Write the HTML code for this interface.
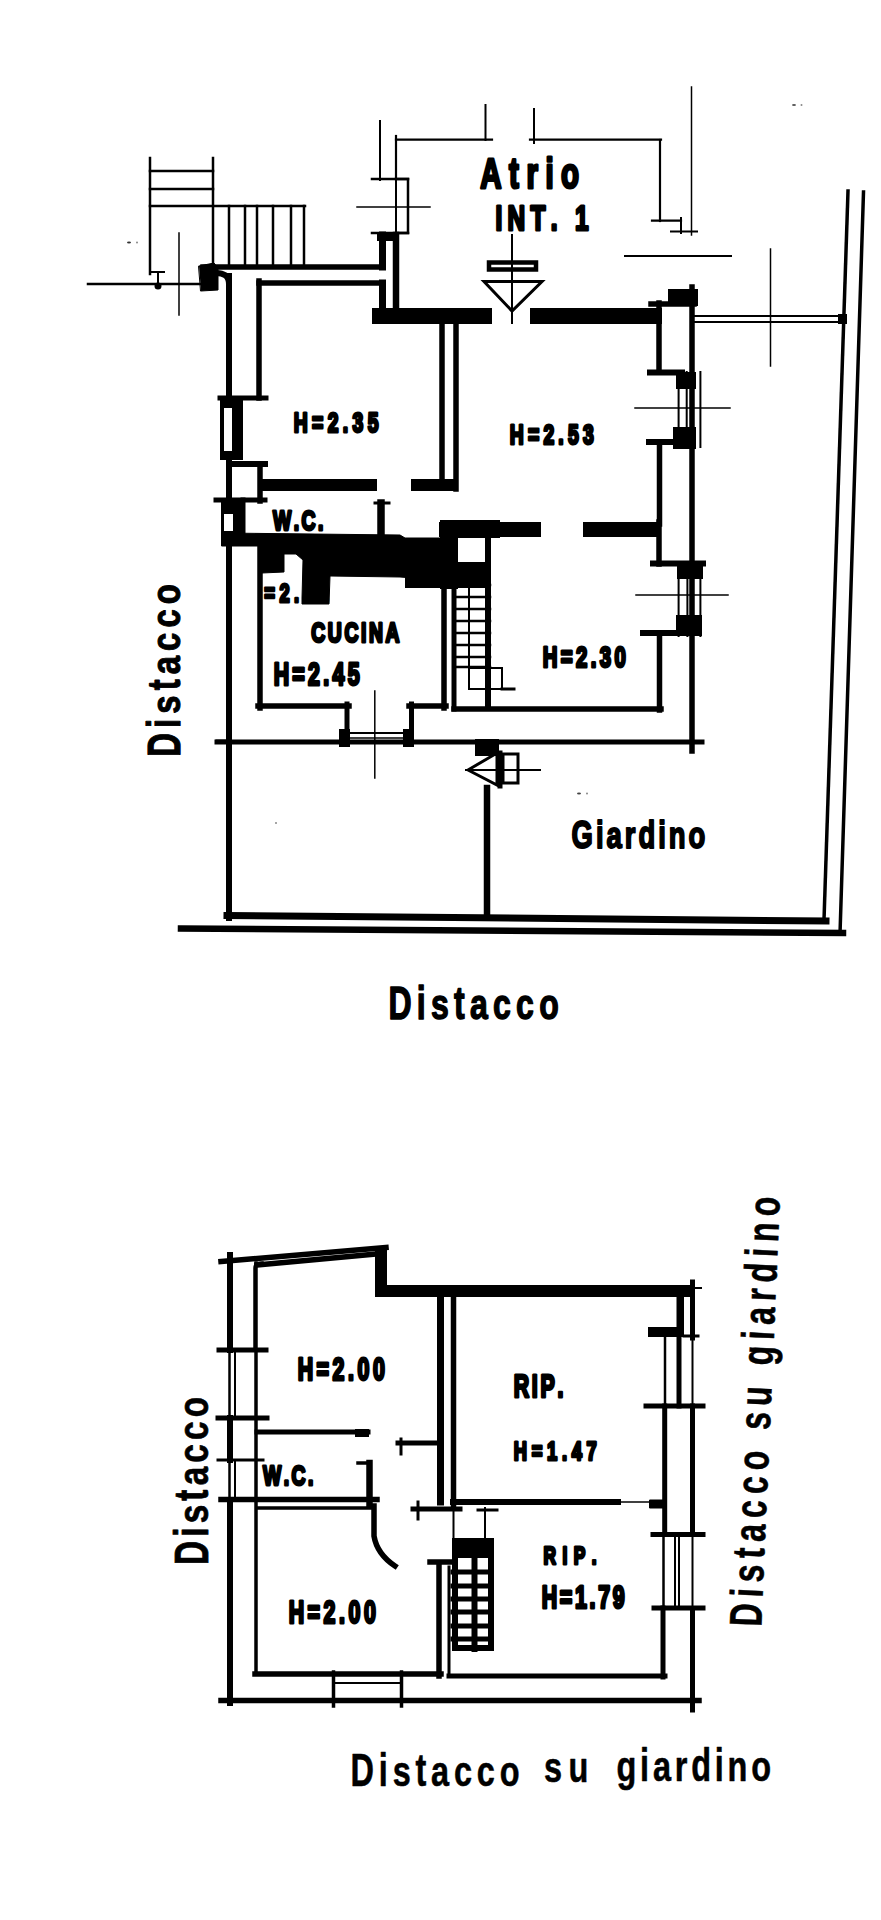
<!DOCTYPE html>
<html><head><meta charset="utf-8"><style>
html,body{margin:0;padding:0;background:#fff;}
svg{display:block;}
text{font-family:"Liberation Sans",sans-serif;fill:#000;}
</style></head><body>
<svg width="881" height="1920" viewBox="0 0 881 1920" stroke="#000" stroke-linecap="square">
<rect x="0" y="0" width="881" height="1920" fill="#fff" stroke="none"/>
<line x1="150" y1="158" x2="150" y2="274" stroke-width="2.5"/>
<line x1="213" y1="158" x2="213" y2="267" stroke-width="2.5"/>
<line x1="150" y1="171" x2="213" y2="171" stroke-width="2.5"/>
<line x1="150" y1="189" x2="213" y2="189" stroke-width="2.5"/>
<line x1="150" y1="206" x2="305" y2="206" stroke-width="2.5"/>
<line x1="229" y1="206" x2="229" y2="267" stroke-width="2.5"/>
<line x1="245" y1="206" x2="245" y2="267" stroke-width="2.5"/>
<line x1="257" y1="206" x2="257" y2="267" stroke-width="2.5"/>
<line x1="273" y1="206" x2="273" y2="267" stroke-width="2.5"/>
<line x1="291" y1="206" x2="291" y2="267" stroke-width="2.5"/>
<line x1="304" y1="206" x2="304" y2="267" stroke-width="2.5"/>
<line x1="150" y1="272" x2="164" y2="272" stroke-width="2"/>
<line x1="158" y1="272" x2="158" y2="286" stroke-width="2"/>
<circle cx="158" cy="286" r="3.5" fill="#000" stroke="none"/>
<line x1="88" y1="284" x2="203" y2="284" stroke-width="2.5"/>
<line x1="179" y1="233" x2="179" y2="315" stroke-width="1.5"/>
<path d="M199 266 L214 263 L218 268 L218 290 L201 291 Z" stroke-width="1" fill="#000"/>
<path d="M214 273 Q229 272 229 284" stroke-width="6" fill="none"/>
<line x1="203" y1="267" x2="383" y2="267" stroke-width="5.5"/>
<line x1="259" y1="283" x2="383" y2="283" stroke-width="5.5"/>
<line x1="229" y1="276" x2="229" y2="918" stroke-width="6"/>
<line x1="259" y1="281" x2="259" y2="398" stroke-width="5.5"/>
<line x1="382.5" y1="235" x2="382.5" y2="267" stroke-width="7"/>
<line x1="382.5" y1="283" x2="382.5" y2="320" stroke-width="7"/>
<line x1="396" y1="235" x2="396" y2="312" stroke-width="6.5"/>
<rect x="377" y="232" width="22" height="9" fill="#000" stroke="none"/>
<rect x="372" y="308" width="120" height="16" fill="#000" stroke="none"/>
<rect x="530" y="308" width="132" height="16" fill="#000" stroke="none"/>
<path d="M396 179 H408 V233 H396" stroke-width="2.5" fill="none"/>
<line x1="396" y1="179" x2="396" y2="233" stroke-width="2"/>
<line x1="372" y1="179" x2="408" y2="179" stroke-width="2.5"/>
<line x1="372" y1="233" x2="408" y2="233" stroke-width="2.5"/>
<line x1="357" y1="207" x2="430" y2="207" stroke-width="1.5"/>
<line x1="380" y1="121" x2="380" y2="180" stroke-width="2"/>
<line x1="396" y1="139.6" x2="492" y2="139.6" stroke-width="2.2"/>
<line x1="396" y1="136" x2="396" y2="179" stroke-width="2.2"/>
<line x1="485.5" y1="105" x2="485.5" y2="140" stroke-width="2"/>
<line x1="534" y1="109" x2="534" y2="143" stroke-width="2"/>
<line x1="530" y1="139.6" x2="661" y2="139.6" stroke-width="2.2"/>
<line x1="660" y1="140" x2="660" y2="221" stroke-width="2.2"/>
<line x1="652" y1="220.6" x2="681" y2="220.6" stroke-width="2.2"/>
<line x1="681" y1="218" x2="681" y2="233" stroke-width="2"/>
<line x1="671" y1="231.5" x2="697" y2="231.5" stroke-width="2"/>
<line x1="691.5" y1="87" x2="691.5" y2="235" stroke-width="1.5"/>
<line x1="625" y1="256" x2="731" y2="256" stroke-width="2"/>
<line x1="512" y1="235" x2="512" y2="323" stroke-width="2"/>
<rect x="489" y="262.5" width="47" height="7" fill="none" stroke-width="4.5"/>
<path d="M484 281.5 L542 281.5 L512 311 Z" stroke-width="3" fill="none"/>
<line x1="659" y1="303" x2="659" y2="372" stroke-width="5.5"/>
<line x1="651" y1="304" x2="694" y2="304" stroke-width="5.5"/>
<rect x="668" y="289" width="30" height="17" fill="#000" stroke="none"/>
<line x1="692" y1="287" x2="692" y2="751" stroke-width="5.5"/>
<line x1="693" y1="316" x2="845" y2="316" stroke-width="2"/>
<line x1="693" y1="322" x2="845" y2="322" stroke-width="2"/>
<rect x="838" y="314" width="9" height="10" fill="#000" stroke="none"/>
<line x1="770.5" y1="249" x2="770.5" y2="366" stroke-width="1.5"/>
<line x1="650" y1="372.5" x2="682" y2="372.5" stroke-width="6"/>
<rect x="676" y="372" width="20" height="17" fill="#000" stroke="none"/>
<line x1="678.6" y1="372" x2="678.6" y2="447" stroke-width="2"/>
<line x1="686.7" y1="372" x2="686.7" y2="447" stroke-width="2"/>
<line x1="700.4" y1="372" x2="700.4" y2="447" stroke-width="2"/>
<line x1="635" y1="408" x2="730" y2="408" stroke-width="1.5"/>
<rect x="673" y="427" width="23" height="22" fill="#000" stroke="none"/>
<line x1="649" y1="442" x2="688" y2="442" stroke-width="6"/>
<line x1="659.5" y1="442" x2="659.5" y2="524" stroke-width="5.5"/>
<rect x="439" y="522" width="102" height="15" fill="#000" stroke="none"/>
<rect x="583" y="522" width="78" height="15" fill="#000" stroke="none"/>
<line x1="659" y1="522" x2="659" y2="564" stroke-width="5.5"/>
<line x1="653" y1="563.6" x2="703" y2="563.6" stroke-width="6"/>
<rect x="677" y="561" width="26" height="18" fill="#000" stroke="none"/>
<line x1="678.6" y1="573" x2="678.6" y2="636" stroke-width="2"/>
<line x1="687.4" y1="573" x2="687.4" y2="636" stroke-width="2"/>
<line x1="700.4" y1="573" x2="700.4" y2="636" stroke-width="2"/>
<line x1="636" y1="595" x2="728" y2="595" stroke-width="1.5"/>
<rect x="676" y="615" width="26" height="21" fill="#000" stroke="none"/>
<line x1="643" y1="633" x2="688" y2="633" stroke-width="6"/>
<line x1="659.5" y1="633" x2="659.5" y2="710" stroke-width="5.5"/>
<line x1="454" y1="709" x2="661" y2="709" stroke-width="5.5"/>
<line x1="217" y1="742" x2="702" y2="742" stroke-width="5"/>
<line x1="442" y1="320" x2="442" y2="486" stroke-width="5.5"/>
<line x1="456" y1="320" x2="456" y2="489" stroke-width="5.5"/>
<rect x="262" y="479" width="115" height="12" fill="#000" stroke="none"/>
<rect x="411" y="479" width="47" height="12" fill="#000" stroke="none"/>
<line x1="220" y1="398" x2="266" y2="398" stroke-width="5"/>
<rect x="220" y="398" width="23" height="62" fill="#000" stroke="none"/>
<rect x="224" y="408" width="8" height="43" fill="#fff" stroke="none"/>
<line x1="234" y1="464" x2="265" y2="464" stroke-width="6"/>
<line x1="260" y1="464" x2="260" y2="501" stroke-width="5.5"/>
<line x1="216" y1="500" x2="265" y2="500" stroke-width="5"/>
<rect x="221" y="500" width="22" height="43" fill="#000" stroke="none"/>
<rect x="224" y="514" width="9" height="17" fill="#fff" stroke="none"/>
<line x1="381" y1="503" x2="381" y2="541" stroke-width="7.5"/>
<line x1="375" y1="503" x2="389" y2="503" stroke-width="3"/>
<line x1="243" y1="500" x2="243" y2="538" stroke-width="5"/>
<path d="M222 533 L400 535 L405 538 L440 538 L440 580 L400 577 L330 576 L329 604 L302 604 L302 598 L303 560 L296 554 L284 554 L284 572 L262 573 L262 546 L222 546 Z" stroke-width="1" fill="#000"/>
<rect x="440" y="520" width="60" height="18" fill="#000" stroke="none"/>
<rect x="440" y="520" width="18" height="69" fill="#000" stroke="none"/>
<rect x="485" y="520" width="6" height="188" fill="#000" stroke="none"/>
<rect x="405" y="562" width="86" height="26" fill="#000" stroke="none"/>
<line x1="260" y1="548" x2="260" y2="708" stroke-width="5.5"/>
<line x1="258" y1="706" x2="349" y2="706" stroke-width="5.5"/>
<line x1="347" y1="704" x2="347" y2="733" stroke-width="5"/>
<line x1="411.5" y1="704" x2="411.5" y2="733" stroke-width="5"/>
<line x1="409" y1="706" x2="446" y2="706" stroke-width="5.5"/>
<line x1="444" y1="582" x2="444" y2="708" stroke-width="5.5"/>
<line x1="341" y1="733" x2="413" y2="733" stroke-width="2"/>
<line x1="341" y1="738" x2="413" y2="738" stroke-width="1.5"/>
<rect x="339" y="729" width="11" height="18" fill="#000" stroke="none"/>
<rect x="403" y="729" width="11" height="18" fill="#000" stroke="none"/>
<line x1="374.8" y1="691" x2="374.8" y2="778" stroke-width="1.5"/>
<line x1="454" y1="590" x2="454" y2="709" stroke-width="5"/>
<line x1="454" y1="585" x2="490" y2="585" stroke-width="2.5"/>
<line x1="454" y1="597" x2="490" y2="597" stroke-width="2.5"/>
<line x1="454" y1="609" x2="490" y2="609" stroke-width="2.5"/>
<line x1="454" y1="621" x2="490" y2="621" stroke-width="2.5"/>
<line x1="454" y1="633" x2="490" y2="633" stroke-width="2.5"/>
<line x1="454" y1="645" x2="490" y2="645" stroke-width="2.5"/>
<line x1="454" y1="657" x2="490" y2="657" stroke-width="2.5"/>
<line x1="454" y1="667" x2="490" y2="667" stroke-width="2.5"/>
<line x1="469" y1="585" x2="469" y2="689" stroke-width="2"/>
<rect x="469" y="668" width="33" height="21" fill="none" stroke-width="2"/>
<line x1="502" y1="689" x2="514" y2="689" stroke-width="3"/>
<rect x="475" y="739" width="24" height="17" fill="#000" stroke="none"/>
<path d="M468 770 L497 753 L497 785 Z" stroke-width="3" fill="none"/>
<line x1="500" y1="753" x2="500" y2="786" stroke-width="5"/>
<rect x="503" y="754" width="15" height="29" fill="none" stroke-width="3"/>
<line x1="466" y1="770" x2="540" y2="770" stroke-width="2"/>
<line x1="487" y1="788" x2="487" y2="917" stroke-width="6.5"/>
<line x1="227" y1="915.5" x2="826" y2="921" stroke-width="7"/>
<line x1="181" y1="928.5" x2="843" y2="933" stroke-width="6.5"/>
<line x1="848" y1="191" x2="824" y2="920" stroke-width="3.5"/>
<line x1="863.5" y1="192" x2="840" y2="934" stroke-width="3.5"/>
<line x1="217" y1="741" x2="229" y2="741" stroke-width="3"/>
<text transform="translate(480 189) rotate(0) scale(0.7 1)" x="0.45 41.59 66.32 93.42 115.83" y="-1.5" font-size="42.15" font-weight="bold" stroke="#000" stroke-width="3" stroke-linejoin="round">Atrio</text>
<text transform="translate(496 231) rotate(0) scale(0.7 1)" x="-0.83 16.50 49.32 78.27 112.93" y="-1.5" font-size="34.88" font-weight="bold" stroke="#000" stroke-width="3" stroke-linejoin="round">INT.1</text>
<text transform="translate(294 433.6) rotate(0) scale(0.7 1)" x="-0.35 25.84 48.21 69.82 83.73 105.34" y="-1.5" font-size="27.62" font-weight="bold" stroke="#000" stroke-width="3" stroke-linejoin="round">H=2.35</text>
<text transform="translate(510 445) rotate(0) scale(0.7 1)" x="-0.35 25.60 47.73 69.10 82.78 104.14" y="-1.5" font-size="27.62" font-weight="bold" stroke="#000" stroke-width="3" stroke-linejoin="round">H=2.53</text>
<text transform="translate(272 531) rotate(0) scale(0.7 1)" x="1.47 31.02 42.17 65.59" y="-1.5" font-size="27.62" font-weight="bold" stroke="#000" stroke-width="3" stroke-linejoin="round">W.C.</text>
<text transform="translate(264 603) rotate(0) scale(0.7 1)" x="0.41 22.06 42.98 56.62 77.53" y="-1.5" font-size="26.16" font-weight="bold" stroke="#000" stroke-width="3" stroke-linejoin="round">=2.31</text>
<text transform="translate(311 643) rotate(0) scale(0.7 1)" x="0.37 24.03 47.70 71.37 82.76 106.43" y="-1.5" font-size="27.62" font-weight="bold" stroke="#000" stroke-width="3" stroke-linejoin="round">CUCINA</text>
<text transform="translate(274 686) rotate(0) scale(0.7 1)" x="-0.54 26.20 48.72 70.39 83.56 105.23" y="-1.5" font-size="30.52" font-weight="bold" stroke="#000" stroke-width="3" stroke-linejoin="round">H=2.45</text>
<text transform="translate(543 668) rotate(0) scale(0.7 1)" x="-0.44 25.38 47.19 68.19 81.10 102.10" y="-1.5" font-size="29.07" font-weight="bold" stroke="#000" stroke-width="3" stroke-linejoin="round">H=2.30</text>
<g transform="translate(572 849) rotate(0) scale(0.7 1)" font-size="39.24" font-weight="bold" stroke="#000" stroke-width="2" stroke-linejoin="round"><text x="-0.61" y="-1.0">G</text><text x="34.17" y="-1.0">i</text><text transform="translate(49.33 -1.0) scale(1 0.925)">a</text><text transform="translate(75.41 -1.0) scale(1 0.925)">r</text><text x="94.94" y="-1.0">d</text><text x="123.17" y="-1.0">i</text><text transform="translate(138.33 -1.0) scale(1 0.925)">n</text><text transform="translate(166.56 -1.0) scale(1 0.925)">o</text></g>
<g transform="translate(390 1020) rotate(0) scale(0.7 1)" font-size="45.78" font-weight="bold" stroke="#000" stroke-width="1.5" stroke-linejoin="round"><text x="-2.31" y="-0.75">D</text><text x="38.25" y="-0.75">i</text><text transform="translate(58.47 -0.75) scale(1 0.921)">s</text><text x="91.44" y="-0.75">t</text><text transform="translate(114.18 -0.75) scale(1 0.921)">a</text><text transform="translate(147.14 -0.75) scale(1 0.921)">c</text><text transform="translate(180.11 -0.75) scale(1 0.921)">c</text><text transform="translate(213.07 -0.75) scale(1 0.921)">o</text></g>
<g transform="translate(180.1 755) rotate(-90) scale(0.7 1)" font-size="46.95" font-weight="bold" stroke="#000" stroke-width="1.2" stroke-linejoin="round"><text x="-2.54" y="-0.6">D</text><text x="38.64" y="-0.6">i</text><text transform="translate(58.96 -0.6) scale(1 0.871)">s</text><text x="92.35" y="-0.6">t</text><text transform="translate(115.26 -0.6) scale(1 0.871)">a</text><text transform="translate(148.64 -0.6) scale(1 0.871)">c</text><text transform="translate(182.03 -0.6) scale(1 0.871)">c</text><text transform="translate(215.41 -0.6) scale(1 0.871)">o</text></g>
<line x1="221" y1="1261.5" x2="386" y2="1247.5" stroke-width="5.5"/>
<line x1="257" y1="1265" x2="376" y2="1254" stroke-width="5.5"/>
<path d="M255 1350 V1268 Q255 1263 262 1263" stroke-width="3.5" fill="none"/>
<rect x="375" y="1246" width="12" height="49" fill="#000" stroke="none"/>
<rect x="375" y="1285" width="317" height="12" fill="#000" stroke="none"/>
<line x1="230" y1="1255" x2="230" y2="1350" stroke-width="6"/>
<line x1="230" y1="1418" x2="230" y2="1460" stroke-width="6"/>
<line x1="230" y1="1500" x2="230" y2="1703" stroke-width="6"/>
<line x1="256" y1="1263" x2="256" y2="1674" stroke-width="3.5"/>
<line x1="219" y1="1350" x2="266" y2="1350" stroke-width="5"/>
<line x1="218" y1="1418" x2="267" y2="1418" stroke-width="5"/>
<line x1="218" y1="1460" x2="263" y2="1460" stroke-width="3"/>
<line x1="229.5" y1="1350" x2="229.5" y2="1418" stroke-width="2.5"/>
<line x1="235" y1="1350" x2="235" y2="1418" stroke-width="2"/>
<line x1="229.5" y1="1460" x2="229.5" y2="1500" stroke-width="2.5"/>
<line x1="235" y1="1460" x2="235" y2="1500" stroke-width="2"/>
<line x1="257" y1="1432" x2="368" y2="1432" stroke-width="5"/>
<rect x="355" y="1429" width="14" height="8" fill="#000" stroke="none"/>
<line x1="369.5" y1="1463" x2="369.5" y2="1505" stroke-width="6.5"/>
<line x1="358" y1="1463" x2="370" y2="1463" stroke-width="3.5"/>
<line x1="221" y1="1499.5" x2="377" y2="1499.5" stroke-width="5.5"/>
<line x1="257" y1="1508" x2="373" y2="1508" stroke-width="3.5"/>
<path d="M374 1506 L374 1536 Q377 1554 395 1566" stroke-width="5.5" fill="none"/>
<line x1="255" y1="1674" x2="441" y2="1674" stroke-width="5.5"/>
<line x1="333.5" y1="1672" x2="333.5" y2="1706" stroke-width="3.5"/>
<line x1="401.5" y1="1672" x2="401.5" y2="1706" stroke-width="3.5"/>
<line x1="334" y1="1683" x2="402" y2="1683" stroke-width="2"/>
<line x1="221" y1="1700.5" x2="699" y2="1700.5" stroke-width="5.5"/>
<line x1="439" y1="1563" x2="439" y2="1676" stroke-width="5.5"/>
<line x1="430" y1="1562" x2="452" y2="1562" stroke-width="5.5"/>
<line x1="440.5" y1="1295" x2="440.5" y2="1502" stroke-width="7"/>
<line x1="453.5" y1="1295" x2="453.5" y2="1507" stroke-width="5.5"/>
<line x1="398" y1="1443" x2="440" y2="1443" stroke-width="5"/>
<line x1="401" y1="1439" x2="401" y2="1454" stroke-width="3"/>
<line x1="413" y1="1509" x2="460" y2="1509" stroke-width="5"/>
<line x1="418" y1="1502" x2="418" y2="1519" stroke-width="3"/>
<line x1="453" y1="1502" x2="618" y2="1502" stroke-width="6"/>
<line x1="618" y1="1502" x2="663" y2="1502" stroke-width="1.5"/>
<line x1="453.5" y1="1509" x2="453.5" y2="1541" stroke-width="2"/>
<line x1="485" y1="1508" x2="485" y2="1541" stroke-width="2"/>
<line x1="478" y1="1510" x2="497" y2="1510" stroke-width="3"/>
<rect x="452" y="1541" width="40" height="17" fill="#000" stroke="none"/>
<line x1="449" y1="1567" x2="449" y2="1676" stroke-width="3"/>
<rect x="455" y="1541" width="36" height="107" fill="none" stroke-width="6"/>
<line x1="453" y1="1572" x2="490" y2="1572" stroke-width="5"/>
<line x1="453" y1="1586" x2="490" y2="1586" stroke-width="5"/>
<line x1="453" y1="1599" x2="490" y2="1599" stroke-width="5"/>
<line x1="453" y1="1612" x2="490" y2="1612" stroke-width="5"/>
<line x1="453" y1="1626" x2="490" y2="1626" stroke-width="5"/>
<line x1="453" y1="1639" x2="490" y2="1639" stroke-width="5"/>
<line x1="474.5" y1="1558" x2="474.5" y2="1649" stroke-width="6"/>
<line x1="449" y1="1676" x2="665" y2="1676" stroke-width="5"/>
<line x1="663" y1="1608" x2="663" y2="1677" stroke-width="5"/>
<line x1="692.5" y1="1282" x2="692.5" y2="1338" stroke-width="5"/>
<line x1="692.5" y1="1338" x2="692.5" y2="1406" stroke-width="2"/>
<line x1="692.5" y1="1406" x2="692.5" y2="1534" stroke-width="5"/>
<line x1="692.5" y1="1534" x2="692.5" y2="1609" stroke-width="2"/>
<line x1="692.5" y1="1609" x2="692.5" y2="1710" stroke-width="5"/>
<rect x="676.5" y="1297" width="7.5" height="40" fill="#000" stroke="none"/>
<rect x="648" y="1327" width="36" height="10" fill="#000" stroke="none"/>
<line x1="684" y1="1336" x2="698" y2="1336" stroke-width="3"/>
<line x1="665" y1="1338" x2="665" y2="1406" stroke-width="2.5"/>
<line x1="679" y1="1331" x2="679" y2="1406" stroke-width="5"/>
<line x1="688" y1="1288" x2="701" y2="1288" stroke-width="2"/>
<line x1="646" y1="1406" x2="703" y2="1406" stroke-width="5"/>
<line x1="653" y1="1534.6" x2="703" y2="1534.6" stroke-width="5"/>
<line x1="654" y1="1608" x2="703" y2="1608" stroke-width="5"/>
<line x1="664.7" y1="1406" x2="664.7" y2="1534" stroke-width="5"/>
<path d="M650 1500 L664 1500 L664 1508 L650 1508 Z" stroke-width="1" fill="#000"/>
<line x1="663.5" y1="1534" x2="663.5" y2="1609" stroke-width="2.5"/>
<line x1="675" y1="1534" x2="675" y2="1609" stroke-width="2"/>
<line x1="679" y1="1534" x2="679" y2="1609" stroke-width="2"/>
<text transform="translate(298 1381) rotate(0) scale(0.7 1)" x="-0.54 26.56 49.45 71.48 85.03 107.06" y="-1.5" font-size="30.52" font-weight="bold" stroke="#000" stroke-width="3" stroke-linejoin="round">H=2.00</text>
<text transform="translate(514 1398) rotate(0) scale(0.7 1)" x="-0.54 25.43 37.84 62.12" y="-1.5" font-size="30.52" font-weight="bold" stroke="#000" stroke-width="3" stroke-linejoin="round">RIP.</text>
<text transform="translate(514 1461) rotate(0) scale(0.7 1)" x="-0.25 25.32 47.27 68.50 82.44 103.67" y="-1.5" font-size="26.16" font-weight="bold" stroke="#000" stroke-width="3" stroke-linejoin="round">H=1.47</text>
<text transform="translate(262 1486) rotate(0) scale(0.7 1)" x="1.47 31.02 42.17 65.59" y="-1.5" font-size="27.62" font-weight="bold" stroke="#000" stroke-width="3" stroke-linejoin="round">W.C.</text>
<text transform="translate(543.5 1565) rotate(0) scale(0.7 1)" x="-0.15 27.03 43.23 69.05" y="-1.5" font-size="24.71" font-weight="bold" stroke="#000" stroke-width="3" stroke-linejoin="round">RIP.</text>
<text transform="translate(542 1609) rotate(0) scale(0.7 1)" x="-0.54 25.40 47.11 67.98 80.36 101.23" y="-1.5" font-size="30.52" font-weight="bold" stroke="#000" stroke-width="3" stroke-linejoin="round">H=1.79</text>
<text transform="translate(289 1624) rotate(0) scale(0.7 1)" x="-0.54 26.56 49.45 71.48 85.03 107.06" y="-1.5" font-size="30.52" font-weight="bold" stroke="#000" stroke-width="3" stroke-linejoin="round">H=2.00</text>
<g transform="translate(208 1563) rotate(-90) scale(0.7 1)" font-size="47.53" font-weight="bold" stroke="#000" stroke-width="0.8" stroke-linejoin="round"><text x="-2.78" y="-0.4">D</text><text x="37.52" y="-0.4">i</text><text transform="translate(56.70 -0.4) scale(1 0.876)">s</text><text x="89.11" y="-0.4">t</text><text transform="translate(110.91 -0.4) scale(1 0.876)">a</text><text transform="translate(143.32 -0.4) scale(1 0.876)">c</text><text transform="translate(175.73 -0.4) scale(1 0.876)">c</text><text transform="translate(208.14 -0.4) scale(1 0.876)">o</text></g>
<g transform="translate(761.5 1625) rotate(-87.5) scale(0.7 1)" font-size="45.64" font-weight="bold" stroke="#000" stroke-width="0.6" stroke-linejoin="round"><text x="-2.75" y="-0.3">D</text><text x="38.91" y="-0.3">i</text><text transform="translate(60.29 -0.3) scale(1 0.971)">s</text><text x="94.38" y="-0.3">t</text><text transform="translate(118.28 -0.3) scale(1 0.971)">a</text><text transform="translate(152.36 -0.3) scale(1 0.971)">c</text><text transform="translate(186.45 -0.3) scale(1 0.971)">c</text><text transform="translate(220.53 -0.3) scale(1 0.971)">o</text><text transform="translate(278.50 -0.3) scale(1 0.971)">s</text><text transform="translate(312.58 -0.3) scale(1 0.971)">u</text><text transform="translate(370.55 -0.3) scale(1 0.971)">g</text><text x="407.13" y="-0.3">i</text><text transform="translate(428.51 -0.3) scale(1 0.971)">a</text><text transform="translate(462.60 -0.3) scale(1 0.971)">r</text><text x="489.06" y="-0.3">d</text><text x="525.64" y="-0.3">i</text><text transform="translate(547.02 -0.3) scale(1 0.971)">n</text><text transform="translate(583.60 -0.3) scale(1 0.971)">o</text></g>
<g transform="translate(352.5 1786) rotate(0) scale(0.7 1)" font-size="46.37" font-weight="bold" stroke="#000" stroke-width="0.6" stroke-linejoin="round"><text x="-2.80" y="-0.3">D</text><text x="37.57" y="-0.3">i</text><text transform="translate(57.33 -0.3) scale(1 0.905)">s</text><text x="90.00" y="-0.3">t</text><text transform="translate(112.32 -0.3) scale(1 0.905)">a</text><text transform="translate(144.99 -0.3) scale(1 0.905)">c</text><text transform="translate(177.66 -0.3) scale(1 0.905)">c</text><text transform="translate(210.33 -0.3) scale(1 0.905)">o</text></g>
<g transform="translate(545 1782) rotate(0) scale(0.7 1)" font-size="46.37" font-weight="bold" stroke="#000" stroke-width="0.6" stroke-linejoin="round"><text transform="translate(-1.33 -0.3) scale(1 0.905)">s</text><text transform="translate(33.43 -0.3) scale(1 0.905)">u</text></g>
<g transform="translate(617.6 1781) rotate(0) scale(0.7 1)" font-size="46.37" font-weight="bold" stroke="#000" stroke-width="0.6" stroke-linejoin="round"><text transform="translate(-1.60 -0.3) scale(1 0.905)">g</text><text x="32.14" y="-0.3">i</text><text transform="translate(50.44 -0.3) scale(1 0.905)">a</text><text transform="translate(81.65 -0.3) scale(1 0.905)">r</text><text x="105.12" y="-0.3">d</text><text x="138.86" y="-0.3">i</text><text transform="translate(157.16 -0.3) scale(1 0.905)">n</text><text transform="translate(190.90 -0.3) scale(1 0.905)">o</text></g>
<ellipse cx="129" cy="242.5" rx="2" ry="1" fill="#333" stroke="none"/>
<ellipse cx="137" cy="242.5" rx="1" ry="1" fill="#888" stroke="none"/>
<ellipse cx="794" cy="105" rx="2" ry="1" fill="#555" stroke="none"/>
<ellipse cx="801.5" cy="105" rx="1" ry="1" fill="#888" stroke="none"/>
<ellipse cx="276" cy="823" rx="1" ry="1" fill="#888" stroke="none"/>
<ellipse cx="579" cy="793.6" rx="2" ry="1" fill="#444" stroke="none"/>
<ellipse cx="587" cy="793.6" rx="1" ry="1" fill="#888" stroke="none"/>
</svg>
</body></html>
